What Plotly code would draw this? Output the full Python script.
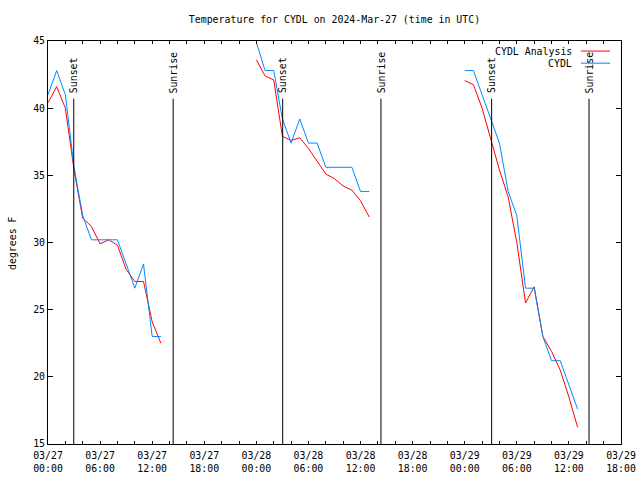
import plotly.graph_objects as go

# ---- data ----
day_starts = ["2024-03-27", "2024-03-28", "2024-03-29"]
day_hours = [list(range(0, 14)), list(range(0, 14)), list(range(0, 14))]

analysis_values = [
    [40.4, 41.6, 40.0, 35.4, 31.8, 31.2, 29.9, 30.2, 29.8, 28.0, 27.1, 27.1, 24.1, 22.5],
    [43.6, 42.4, 42.1, 37.9, 37.6, 37.8, 37.0, 36.0, 35.1, 34.75, 34.2, 33.9, 33.1, 31.9],
    [42.05, 41.75, 40.0, 37.75, 35.4, 33.4, 30.0, 25.5, 26.7, 23.0, 21.9, 20.5, 18.5, 16.25],
]
obs_values = [
    [41.0, 42.8, 41.0, 35.6, 32.0, 30.2, 30.2, 30.2, 30.2, 28.4, 26.6, 28.4, 23.0, 23.0],
    [44.9, 42.8, 42.8, 39.2, 37.4, 39.2, 37.4, 37.4, 35.6, 35.6, 35.6, 35.6, 33.8, 33.8],
    [42.8, 42.8, 41.0, 39.2, 37.4, 33.8, 32.0, 26.6, 26.6, 23.0, 21.2, 21.2, 19.4, 17.6],
]

sunset_times = ["2024-03-27 02:58", "2024-03-28 03:02", "2024-03-29 03:06"]
sunrise_times = ["2024-03-27 14:25", "2024-03-28 14:21", "2024-03-29 14:19"]

x_range = ["2024-03-27 00:00", "2024-03-29 18:00"]
y_range = [15, 45]
sun_line_top = 40.7
sun_label_y = 40.95

title_text = "Temperature for CYDL on 2024-Mar-27 (time in UTC)"
series_names = ["CYDL Analysis", "CYDL"]
series_colors = ["#ff0000", "#0088ff"]

FONT = "DejaVu Sans Mono"
FS = 9.9
W, H = 648, 486

# ---- build x/y with gaps ----
def build(vals):
    xs, ys = [], []
    for d, hrs, v in zip(day_starts, day_hours, vals):
        for h, val in zip(hrs, v):
            xs.append(f"{d} {h:02d}:00")
            ys.append(val)
        xs.append(None)
        ys.append(None)
    return xs, ys

fig = go.Figure()
for name, color, vals in zip(series_names, series_colors, [analysis_values, obs_values]):
    xs, ys = build(vals)
    fig.add_trace(go.Scatter(x=xs, y=ys, mode="lines", name=name,
                             line=dict(color=color, width=1),
                             connectgaps=False, showlegend=False))

shapes = []
annotations = []
for label, times in (("Sunset", sunset_times), ("Sunrise", sunrise_times)):
    for t in times:
        shapes.append(dict(type="line", xref="x", yref="y", x0=t, x1=t,
                           y0=y_range[0], y1=sun_line_top,
                           line=dict(color="black", width=1)))
        annotations.append(dict(x=t, y=sun_label_y, xref="x", yref="y",
                                text=label, textangle=-90, showarrow=False,
                                xanchor="center", yanchor="bottom",
                                font=dict(family=FONT, size=FS, color="black")))

# legend (gnuplot style: text then sample on right)
leg_y = [0.975, 0.945]
for name, color, ly in zip(series_names, series_colors, leg_y):
    annotations.append(dict(x=0.918, y=ly, xref="paper", yref="paper",
                            text=name, showarrow=False, xanchor="right",
                            yanchor="middle",
                            font=dict(family=FONT, size=FS, color="black")))
    shapes.append(dict(type="line", xref="paper", yref="paper",
                       x0=0.930, x1=0.981, y0=ly, y1=ly,
                       line=dict(color=color, width=1)))

annotations.append(dict(x=-0.062, y=0.5, xref="paper", yref="paper",
                        text="degrees F", textangle=-90, showarrow=False,
                        xanchor="center", yanchor="middle",
                        font=dict(family=FONT, size=FS, color="black")))

fig.update_layout(
    width=W, height=H,
    margin=dict(l=48, r=19, t=41, b=40),
    paper_bgcolor="white", plot_bgcolor="white",
    title=dict(text=title_text, x=0.5, xref="paper", y=1 - 19.3 / H,
               yref="container", yanchor="middle", xanchor="center",
               font=dict(family=FONT, size=FS, color="black")),
    font=dict(family=FONT, size=FS, color="black"),
    shapes=shapes, annotations=annotations,
    showlegend=False,
)
fig.update_xaxes(type="date", range=x_range, showgrid=False, zeroline=False,
                 showline=True, mirror="allticks", linecolor="black", linewidth=1,
                 ticks="inside", ticklen=3, tickcolor="black",
                 tick0="2024-03-27", dtick=6 * 3600 * 1000,
                 tickformat="%m/%d<br>%H:%M", ticklabelstandoff=2,
                 minor=dict(dtick=2 * 3600 * 1000, ticks="inside", ticklen=3,
                            tickcolor="black", showgrid=False),
                 tickfont=dict(family=FONT, size=FS, color="black"))
fig.update_yaxes(range=y_range, showgrid=False, zeroline=False,
                 showline=True, mirror="allticks", linecolor="black", linewidth=1,
                 ticks="inside", ticklen=5, tickcolor="black", dtick=5,
                 tickfont=dict(family=FONT, size=FS, color="black"))

fig.write_html("out.html", config={"displayModeBar": False},
               post_script="document.body.style.margin='0';document.body.style.overflow='hidden';")
